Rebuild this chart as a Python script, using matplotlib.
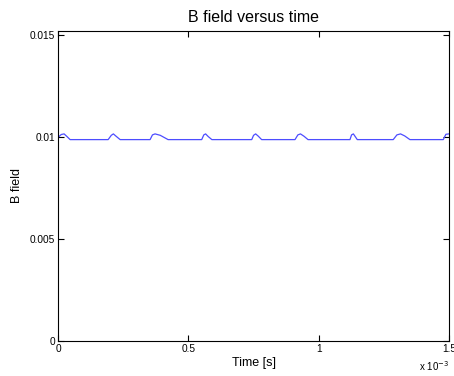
import matplotlib.pyplot as plt

plt.rcParams['font.family'] = ['Liberation Sans', 'DejaVu Sans']

# time samples in ms and field values (T)
t_ms = [0.000, 0.012, 0.023, 0.034, 0.046, 0.192, 0.204, 0.212, 0.222, 0.238,
        0.353, 0.362, 0.372, 0.392, 0.422, 0.551, 0.559, 0.566, 0.576, 0.590,
        0.743, 0.750, 0.758, 0.768, 0.781, 0.909, 0.920, 0.930, 0.944, 0.959,
        1.120, 1.126, 1.133, 1.140, 1.148, 1.286, 1.300, 1.314, 1.330, 1.350,
        1.478, 1.488, 1.500]
B = [0.00998, 0.01012, 0.01015, 0.01002, 0.00987, 0.00987, 0.01008, 0.01015, 0.01004, 0.00987,
     0.00987, 0.01010, 0.01015, 0.01008, 0.00987, 0.00987, 0.01010, 0.01015, 0.01002, 0.00987,
     0.00987, 0.01008, 0.01015, 0.01004, 0.00987, 0.00987, 0.01010, 0.01015, 0.01003, 0.00987,
     0.00987, 0.01010, 0.01015, 0.01002, 0.00987, 0.00987, 0.01010, 0.01015, 0.01005, 0.00987,
     0.00987, 0.01013, 0.01015]

xticks = [0, 0.5, 1, 1.5]
xticklabels = ['0', '0.5', '1', '1.5']
yticks = [0, 0.005, 0.01, 0.015]
yticklabels = ['0', '0.005', '0.01', '0.015']

fig = plt.figure(figsize=(4.54, 3.76), dpi=100)
ax = fig.add_axes([0.128, 0.093, 0.861, 0.825])

ax.plot(t_ms, B, color='#4d4dff', linewidth=0.9)

ax.set_xlim(0, 1.5)
ax.set_ylim(0, 0.0152)
ax.set_xticks(xticks)
ax.set_xticklabels(xticklabels)
ax.set_yticks(yticks)
ax.set_yticklabels(yticklabels)
ax.tick_params(direction='in', length=4, width=0.8, labelsize=7.3,
               top=True, right=True, pad=2)
for s in ax.spines.values():
    s.set_linewidth(0.8)

ax.set_title('B field versus time', fontsize=11.5, pad=6)
ax.set_xlabel('Time [s]', fontsize=9, labelpad=2)
ax.set_ylabel('B field', fontsize=9, labelpad=5)
ax.text(1.0, -0.058, r'x 10$^{-3}$', transform=ax.transAxes,
        ha='right', va='top', fontsize=7)

fig.savefig('out.png', dpi=100)
